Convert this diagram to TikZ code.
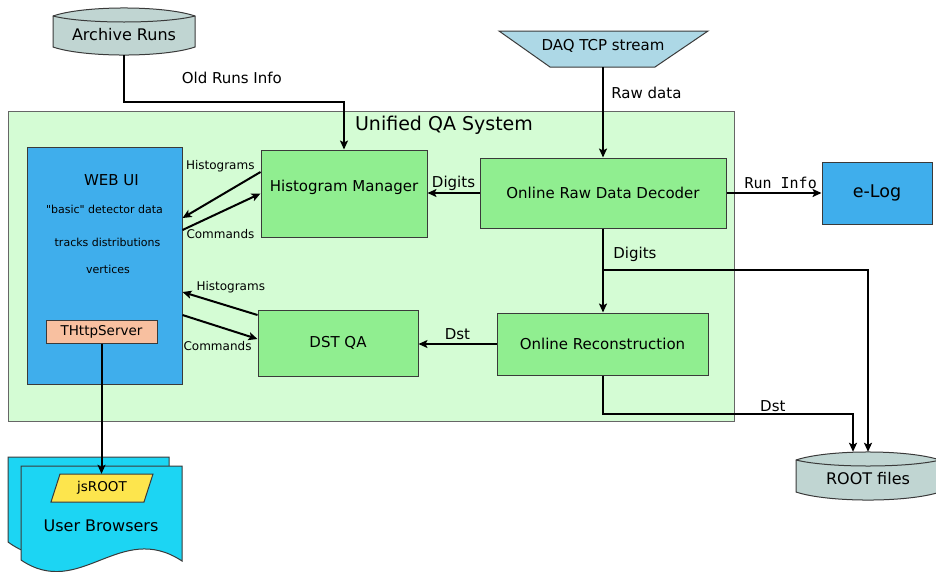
\documentclass[tikz,border=0pt]{standalone}
\usepackage{fontspec}
\setmainfont{DejaVu Sans}
\setmonofont{DejaVu Sans Mono}
\newfontfamily\uifont{DejaVu Sans}
\usetikzlibrary{arrows.meta}
\usetikzlibrary{positioning}
\definecolor{qagreen}{HTML}{D4FCD4}
\definecolor{qaline}{HTML}{666666}
\definecolor{boxline}{HTML}{3A3A3A}
\definecolor{procgreen}{HTML}{90EE90}
\definecolor{uiblue}{HTML}{3FAEEC}
\definecolor{peach}{HTML}{F8C0A0}
\definecolor{drumgray}{HTML}{C0D5D2}
\definecolor{daqblue}{HTML}{ADD8E6}
\definecolor{browsercyan}{HTML}{1CD5F3}
\definecolor{jsyellow}{HTML}{FDE54D}
\begin{document}
\begin{tikzpicture}[x=1pt,y=-1pt,
  every node/.style={font=\fontsize{15}{18}\selectfont},
  qa/.style={draw=qaline, fill=qagreen, line width=1pt},
  proc/.style={draw=boxline, fill=procgreen, line width=1pt, inner sep=2pt},
  ui/.style={draw=boxline, fill=uiblue, line width=1pt},
  drum/.style={draw=boxline, fill=drumgray, line width=1pt},
  flow/.style={draw=black, line width=2pt, -{Stealth[length=9pt,width=8pt,inset=2pt]}},
  lbl/.style={font=\fontsize{12}{14}\selectfont, inner sep=1pt},
  uitext/.style={font=\uifont\fontsize{11}{13}\selectfont}]
\useasboundingbox (0,0) rectangle (936,571);
% unified QA frame
\node[qa, minimum width=726pt, minimum height=310pt] (qa) at (371,266) {};
\node[font=\fontsize{19}{22}\selectfont] (qatitle) at (444,125) {Unified QA System};
% web ui
\node[ui, minimum width=155pt, minimum height=237pt] (webui) at (104.5,265.5) {};
\node (webtitle) at (111.5,180) {WEB UI};
\node[uitext] (webbasic) at (104.5,209) {"basic" detector data};
\node[uitext] (webtracks) at (107.5,242) {tracks distributions};
\node[uitext] (webvert) at (108,269) {vertices};
\node[draw=boxline, fill=peach, line width=1pt, minimum width=111pt, minimum height=23pt, inner sep=0pt, font=\fontsize{13.5}{16}\selectfont] (thttp) at (101.5,331.5) {THttpServer};
% storage
\begin{scope}[shift={(124,31.5)}]
\draw[drum] (-71,-15.5) .. controls (-40,-26.2) and (40,-26.2) .. (71,-15.5) -- (71,15.5) .. controls (40,26.2) and (-40,26.2) .. (-71,15.5) -- cycle;
\draw[drum, fill=none] (-71,-15.5) .. controls (-40,-7.5) and (40,-7.5) .. (71,-15.5);
\end{scope}
\node[minimum width=142pt, minimum height=47pt, label={[yshift=-3.5pt, font=\fontsize{16}{19}\selectfont]center:Archive Runs}] (archive) at (124,31.5) {};
\begin{scope}[shift={(868,476)}]
\draw[drum] (-72,-16) .. controls (-40,-26.7) and (40,-26.7) .. (72,-16) -- (72,16) .. controls (40,26.7) and (-40,26.7) .. (-72,16) -- cycle;
\draw[drum, fill=none] (-72,-16) .. controls (-40,-8) and (40,-8) .. (72,-16);
\end{scope}
\node[minimum width=144pt, minimum height=48pt, label={[yshift=-3pt, font=\fontsize{16}{19}\selectfont]center:ROOT files}] (root) at (868,476) {};
% daq input
\draw[draw=boxline, fill=daqblue, line width=1pt] (499,31) -- (708,31) -- (655,67) -- (550,67) -- cycle;
\node[minimum height=42pt, inner sep=0pt] (daq) at (603,46) {DAQ TCP stream};
% processing blocks
\node[proc, minimum width=246pt, minimum height=70pt] (decoder) at (603,193) {Online Raw Data Decoder};
\node[proc, minimum width=166pt, minimum height=87pt, text height=11pt, text depth=16pt] (hm) at ([shift=({-259pt,-0.5pt})]decoder) {Histogram Manager};
\node[ui, minimum width=110pt, minimum height=62pt, font=\fontsize{17.5}{20}\selectfont] (elog) at ([shift=({274pt,0pt})]decoder) {e-Log};
\node[proc, minimum width=211pt, minimum height=62pt] (reco) at ([shift=({-0.5pt,-151pt})]decoder) {Online Reconstruction};
\node[proc, minimum width=160pt, minimum height=66pt] (dstqa) at ([shift=({-264.5pt,1pt})]reco) {DST QA};
% browsers
\draw[draw=boxline, fill=browsercyan, line width=1pt] (8,457) -- (169,457) -- (169,545) .. controls (107,510) and (67,585) .. (8,542) -- cycle;
\draw[draw=boxline, fill=browsercyan, line width=1pt] (21,466) -- (182,466) -- (182,561) .. controls (120,520) and (80,600) .. (21,560) -- cycle;
\draw[draw=boxline, fill=jsyellow, line width=1pt] (60,474) -- (153,474) -- (144,502) -- (51,502) -- cycle;
\node[minimum height=28pt, inner sep=0pt, font=\fontsize{13.5}{16}\selectfont] (jsroot) at (102,488) {jsROOT};
\node[font=\fontsize{16}{19}\selectfont] (browsers) at (101,526) {User Browsers};
% data flow
\coordinate (oldruns) at (124,102);
\draw[flow] (archive.south) -- (oldruns) -- node[above=14pt, pos=0.49] {Old Runs Info} (oldruns -| hm.north) -- (hm.north);
\draw[flow] (daq.south) -- node[pos=0.28, right=4pt] {Raw data} (daq.south |- decoder.north);
\draw[flow] (decoder.west) -- node[above, inner sep=1pt] {Digits} (decoder.west -| hm.east);
\draw[flow] (decoder.east) -- node[above, pos=0.57, inner sep=3pt, font=\ttfamily\fontsize{15}{18}\selectfont] {Run Info} (elog.west);
\draw[flow] (decoder.south) -- node[pos=0.31, right=6pt] {Digits} (decoder.south |- reco.north);
\coordinate (digitsplit) at (603,270);
\draw[flow] (digitsplit) -| (root.north);
\coordinate (dstbend) at (853,414);
\draw[flow] (reco.south) |- node[pos=0.84, above, inner sep=1pt] {Dst} (dstbend) -- (dstbend |- root.north);
\draw[flow] (reco.west) -- node[above, inner sep=3pt] {Dst} (reco.west -| dstqa.east);
% web ui traffic
\draw[flow] ([yshift=21.5pt]hm.west) -- node[lbl, pos=0, anchor=south east, xshift=-4pt, yshift=-2pt] {Histograms} ([yshift=47.5pt]webui.east);
\draw[flow] ([yshift=35.5pt]webui.east) -- node[lbl, pos=0, anchor=north west, xshift=2pt, yshift=3pt] {Commands} (hm.west);
\draw[flow] ([yshift=28pt]dstqa.west) -- node[lbl, pos=1, anchor=south west, xshift=12pt, yshift=-3pt] {Histograms} ([yshift=-26.5pt]webui.east);
\draw[flow] ([yshift=-49.5pt]webui.east) -- node[lbl, pos=1, anchor=north east, xshift=-4pt] {Commands} ([yshift=4pt]dstqa.west);
\draw[flow] (thttp.south) -- (thttp.south |- jsroot.north);
\end{tikzpicture}
\end{document}
